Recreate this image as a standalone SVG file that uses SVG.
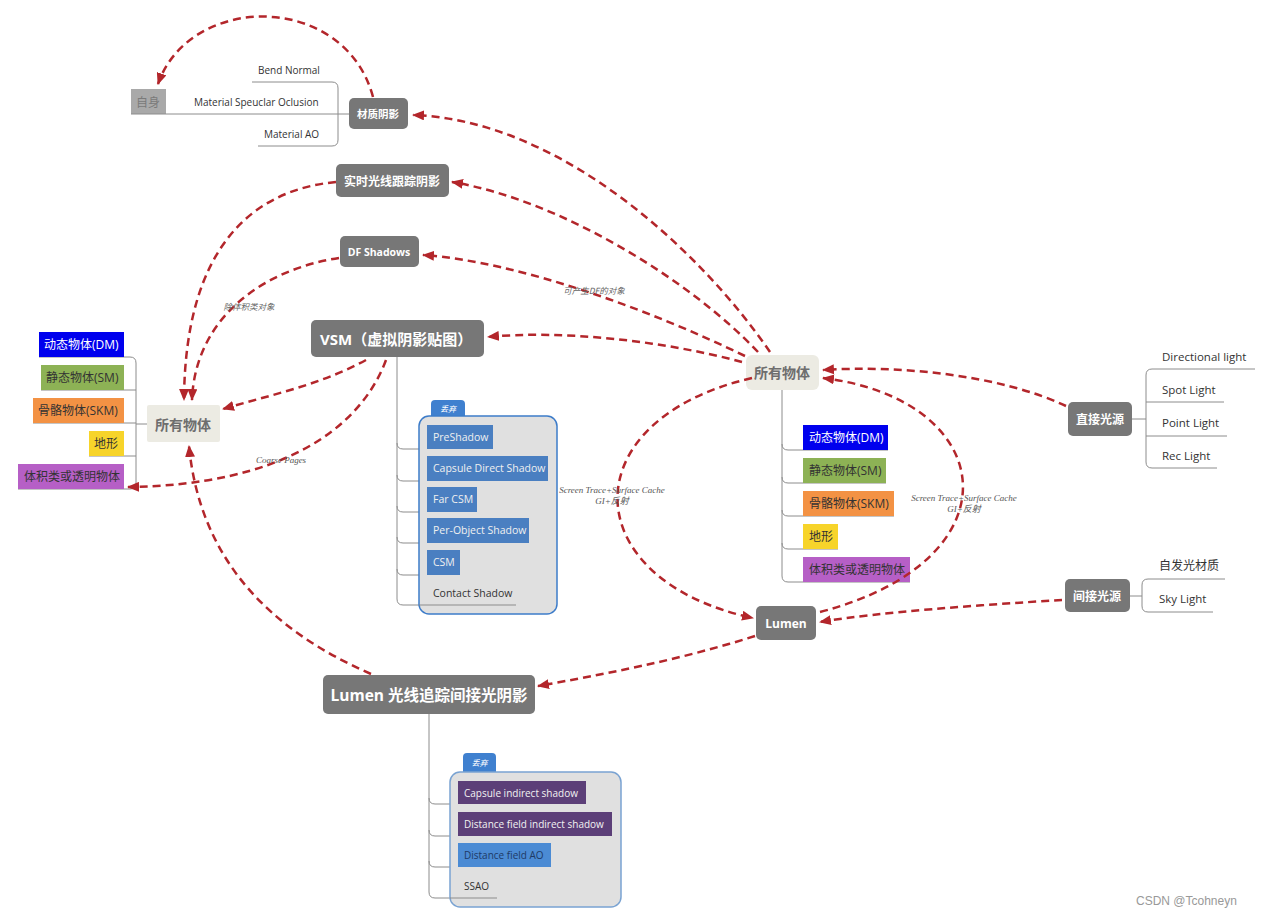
<svg xmlns="http://www.w3.org/2000/svg" width="1261" height="918" viewBox="0 0 1261 918">
<defs>
<marker id="arr" viewBox="0 0 12 10" refX="11" refY="5" markerWidth="12" markerHeight="10" markerUnits="userSpaceOnUse" orient="auto">
<path d="M0,0 L12,5 L0,10 z" fill="#b3262b"/>
</marker>
<style>
text{font-family:"Open Sans","Noto Sans CJK SC",sans-serif;}
.hub{fill:#777777;}
.hubt{fill:#ffffff;font-weight:bold;text-anchor:middle;dominant-baseline:central;}
.all{fill:#ecebe3;}
.allt{fill:#6e6e6e;font-weight:600;font-size:14px;text-anchor:middle;dominant-baseline:central;}
.leaf{fill:#333333;}
.tree{fill:none;stroke:#8c8c8c;stroke-width:1;}
.it{dominant-baseline:central;}
.lab{font-family:"Liberation Serif","Noto Sans CJK SC",serif;font-style:italic;fill:#555555;font-size:9px;text-anchor:middle;}
.labc{font-family:"Noto Sans CJK SC",sans-serif;font-style:italic;fill:#666666;font-size:8.5px;text-anchor:middle;}
.dash{fill:none;stroke:#b3262b;stroke-width:2.5;stroke-dasharray:8 5;marker-end:url(#arr);}
.grp{fill:#e0e0e0;stroke:#3d7cc9;stroke-width:1.5;}
.tab{fill:#3f80cf;}
.tabt{fill:#ffffff;font-size:8px;font-style:italic;text-anchor:middle;dominant-baseline:central;}
.blue{fill:#4a7fc1;}
.purp{fill:#5c3f78;}
.lblue{fill:#4b8bd4;}
</style>
</defs>
<rect width="1261" height="918" fill="#ffffff"/>

<g id="self">
<rect x="131" y="89" width="35" height="25" fill="#a9a9a9"/>
<text x="148" y="102" fill="#7a7a7a" font-size="12" text-anchor="middle" dominant-baseline="central">自身</text>
</g>
<g id="material-shadow">
<path class="tree" d="M131,114 H349"/>
<path class="tree" d="M252,82 H332 Q338,82 338,88 V140 Q338,146 332,146 H258"/>
<text class="leaf" x="258" y="74" font-size="10">Bend Normal</text>
<text class="leaf" x="194" y="106" font-size="10">Material Speuclar Oclusion</text>
<text class="leaf" x="264" y="138" font-size="10">Material AO</text>
<rect class="hub" x="349" y="98" width="59" height="31" rx="5"/>
<text class="hubt" x="378" y="114" font-size="10.5">材质阴影</text>
</g>

<g id="rt-shadow">
<rect class="hub" x="336" y="164" width="113" height="33" rx="5"/>
<text class="hubt" x="392" y="181" font-size="12">实时光线跟踪阴影</text>
</g>

<g id="df-shadows">
<rect class="hub" x="340" y="236" width="79" height="31" rx="5"/>
<text class="hubt" x="379" y="252" font-size="10.5">DF Shadows</text>
</g>

<g id="vsm">
<rect class="hub" x="311" y="320" width="173" height="37" rx="5"/>
<text x="320" y="339" fill="#ffffff" font-weight="bold" font-size="15" dominant-baseline="central">VSM（虚拟阴影贴图）</text>
<path class="tree" d="M397,357 V599 Q397,605 403,605 H516"/>
<path class="tree" d="M397,443 Q397,449 403,449 H427"/>
<path class="tree" d="M397,475 Q397,481 403,481 H427"/>
<path class="tree" d="M397,506 Q397,512 403,512 H427"/>
<path class="tree" d="M397,537 Q397,543 403,543 H427"/>
<path class="tree" d="M397,569 Q397,575 403,575 H427"/>
<path class="tab" d="M431,416 V404 Q431,400 435,400 H461 Q465,400 465,404 V416 z"/>
<text class="tabt" x="448" y="408">丢弃</text>
<rect class="grp" x="419" y="416" width="138" height="198" rx="10"/>
<path class="tree" d="M419,605 H516"/>
<rect class="blue" x="427" y="425" width="66" height="24"/>
<text class="it" x="433" y="437" fill="#f0f0f0" font-size="10.5">PreShadow</text>
<rect class="blue" x="427" y="456" width="121" height="25"/>
<text class="it" x="433" y="468" fill="#f0f0f0" font-size="10.5">Capsule Direct Shadow</text>
<rect class="blue" x="427" y="487" width="50" height="25"/>
<text class="it" x="433" y="499" fill="#f0f0f0" font-size="10.5">Far CSM</text>
<rect class="blue" x="427" y="518" width="102" height="25"/>
<text class="it" x="433" y="530" fill="#f0f0f0" font-size="10.5">Per-Object Shadow</text>
<rect class="blue" x="427" y="550" width="33" height="25"/>
<text class="it" x="433" y="562" fill="#f0f0f0" font-size="10.5">CSM</text>
<text class="it" x="433" y="593" fill="#333333" font-size="10.5">Contact Shadow</text>
</g>

<g id="objects-left">
<rect class="all" x="147" y="405" width="73" height="37" rx="2"/>
<text class="allt" x="183" y="424">所有物体</text>
<path class="tree" d="M39,357 H130 Q136,357 136,363 V483 Q136,489 130,489 H18"/>
<path class="tree" d="M41,390 H136 M33,423 H136 M89,456 H136 M136,424 H147"/>
<rect x="39" y="332" width="85" height="25" fill="#0000ee"/>
<text class="it" x="44" y="344.5" fill="#ffffff" font-size="12">动态物体(DM)</text>
<rect x="41" y="365" width="83" height="25" fill="#8db255"/>
<text class="it" x="46" y="377.5" fill="#333333" font-size="12">静态物体(SM)</text>
<rect x="33" y="398" width="91" height="25" fill="#f39244"/>
<text class="it" x="38" y="410.5" fill="#333333" font-size="12">骨骼物体(SKM)</text>
<rect x="89" y="431" width="35" height="25" fill="#f7d42a"/>
<text class="it" x="94" y="443.5" fill="#333333" font-size="12">地形</text>
<rect x="18" y="464" width="106" height="25" fill="#b65fc6"/>
<text class="it" x="24" y="476.5" fill="#333333" font-size="12">体积类或透明物体</text>
</g>

<g id="objects-right">
<path class="tree" d="M782,390 V576 Q782,582 788,582 H910"/>
<path class="tree" d="M782,444 Q782,450 788,450 H888 M782,477 Q782,483 788,483 H886 M782,510 Q782,516 788,516 H894 M782,543 Q782,549 788,549 H838"/>
<rect class="all" x="746" y="355" width="73" height="35" rx="6"/>
<text class="allt" x="782" y="372">所有物体</text>
<rect x="803" y="425" width="85" height="25" fill="#0000ee"/>
<text class="it" x="809" y="437.5" fill="#ffffff" font-size="12">动态物体(DM)</text>
<rect x="803" y="458" width="83" height="25" fill="#8db255"/>
<text class="it" x="809" y="470.5" fill="#333333" font-size="12">静态物体(SM)</text>
<rect x="803" y="491" width="91" height="25" fill="#f39244"/>
<text class="it" x="809" y="503.5" fill="#333333" font-size="12">骨骼物体(SKM)</text>
<rect x="803" y="524" width="35" height="25" fill="#f7d42a"/>
<text class="it" x="809" y="536.5" fill="#333333" font-size="12">地形</text>
<rect x="803" y="557" width="107" height="25" fill="#b65fc6"/>
<text class="it" x="809" y="569.5" fill="#333333" font-size="12">体积类或透明物体</text>
</g>

<g id="direct-light">
<rect class="hub" x="1068" y="402" width="64" height="34" rx="5"/>
<text class="hubt" x="1100" y="419" font-size="12">直接光源</text>
<path class="tree" d="M1132,419 H1146 M1255,369 H1152 Q1146,369 1146,375 V462 Q1146,468 1152,468 H1217 M1146,402 H1224 M1146,436 H1227"/>
<text class="leaf" x="1162" y="361" font-size="11.5">Directional light</text>
<text class="leaf" x="1162" y="394" font-size="11.5">Spot Light</text>
<text class="leaf" x="1162" y="427" font-size="11.5">Point Light</text>
<text class="leaf" x="1162" y="460" font-size="11.5">Rec Light</text>
</g>

<g id="indirect-light">
<rect class="hub" x="1065" y="579" width="65" height="33" rx="5"/>
<text class="hubt" x="1097" y="596" font-size="12">间接光源</text>
<path class="tree" d="M1130,596 H1142 M1225,579 H1148 Q1142,579 1142,585 V606 Q1142,612 1148,612 H1213"/>
<text class="leaf" x="1159" y="570" font-size="12">自发光材质</text>
<text class="leaf" x="1159" y="603" font-size="11.5">Sky Light</text>
</g>

<g id="lumen">
<rect class="hub" x="756" y="606" width="60" height="34" rx="5"/>
<text class="hubt" x="786" y="623" font-size="12">Lumen</text>
</g>

<g id="lumen-indirect">
<rect class="hub" x="323" y="675" width="212" height="39" rx="5"/>
<text class="hubt" x="429" y="694.5" font-size="15.5">Lumen 光线追踪间接光阴影</text>
<path class="tree" d="M429,714 V892 Q429,898 435,898 H497"/>
<path class="tree" d="M429,798 Q429,804 435,804 H458 M429,830 Q429,836 435,836 H458 M429,861 Q429,867 435,867 H458"/>
<path class="tab" d="M463,772 V757 Q463,753 467,753 H492 Q496,753 496,757 V772 z"/>
<text class="tabt" x="479.5" y="762.5">丢弃</text>
<rect class="grp" x="450" y="772" width="171" height="135" rx="10" style="stroke:#7aa3d2"/>
<path class="tree" d="M450,898 H497"/>
<rect class="purp" x="458" y="781" width="128" height="23"/>
<text class="it" x="464" y="792.5" fill="#f2f2f2" font-size="10">Capsule indirect shadow</text>
<rect class="purp" x="458" y="812" width="154" height="24"/>
<text class="it" x="464" y="824" fill="#f2f2f2" font-size="10">Distance field indirect shadow</text>
<rect class="lblue" x="458" y="843" width="93" height="24"/>
<text class="it" x="464" y="855" fill="#1e3a66" font-size="10">Distance field AO</text>
<text class="it" x="464" y="886" fill="#333333" font-size="10">SSAO</text>
</g>

<g id="connectors">
<path class="dash" d="M373,97 C345,-8 190,-8 158,84"/>
<path class="dash" d="M770,352 C700,250 560,120 413,115"/>
<path class="dash" d="M758,352 C690,280 560,200 452,182"/>
<path class="dash" d="M745,356 C650,310 520,262 423,255"/>
<path class="dash" d="M742,362 C660,340 560,330 488,337"/>
<path class="dash" d="M1066,406 C1000,375 900,365 823,370"/>
<path class="dash" d="M1062,600 C980,605 880,612 820,622"/>
<path class="dash" d="M820,612 C1020,560 1000,400 823,378"/>
<path class="dash" d="M752,378 C570,420 575,580 753,618"/>
<path class="dash" d="M755,636 C680,660 600,675 538,686"/>
<path class="dash" d="M336,182 C250,190 185,250 184,400"/>
<path class="dash" d="M339,258 C260,270 195,320 192,400"/>
<path class="dash" d="M366,360 C320,385 270,395 223,409"/>
<path class="dash" d="M386,360 C360,430 280,485 128,487"/>
<path class="dash" d="M371,674 C270,630 200,560 189,446"/>
<text class="labc" x="594" y="294">可产生DF的对象</text>
<text class="labc" x="249" y="310">除体积类对象</text>
<text class="lab" x="281" y="463">Coarse Pages</text>
<text class="lab" x="612" y="493">Screen Trace+Surface Cache</text>
<text class="lab" x="612" y="504">GI+反射</text>
<text class="lab" x="964" y="501">Screen Trace+Surface Cache</text>
<text class="lab" x="964" y="512">GI+反射</text>
</g>

<text x="1136" y="905" fill="#999999" font-size="12" style="font-family:'Liberation Sans',sans-serif">CSDN @Tcohneyn</text>
</svg>
